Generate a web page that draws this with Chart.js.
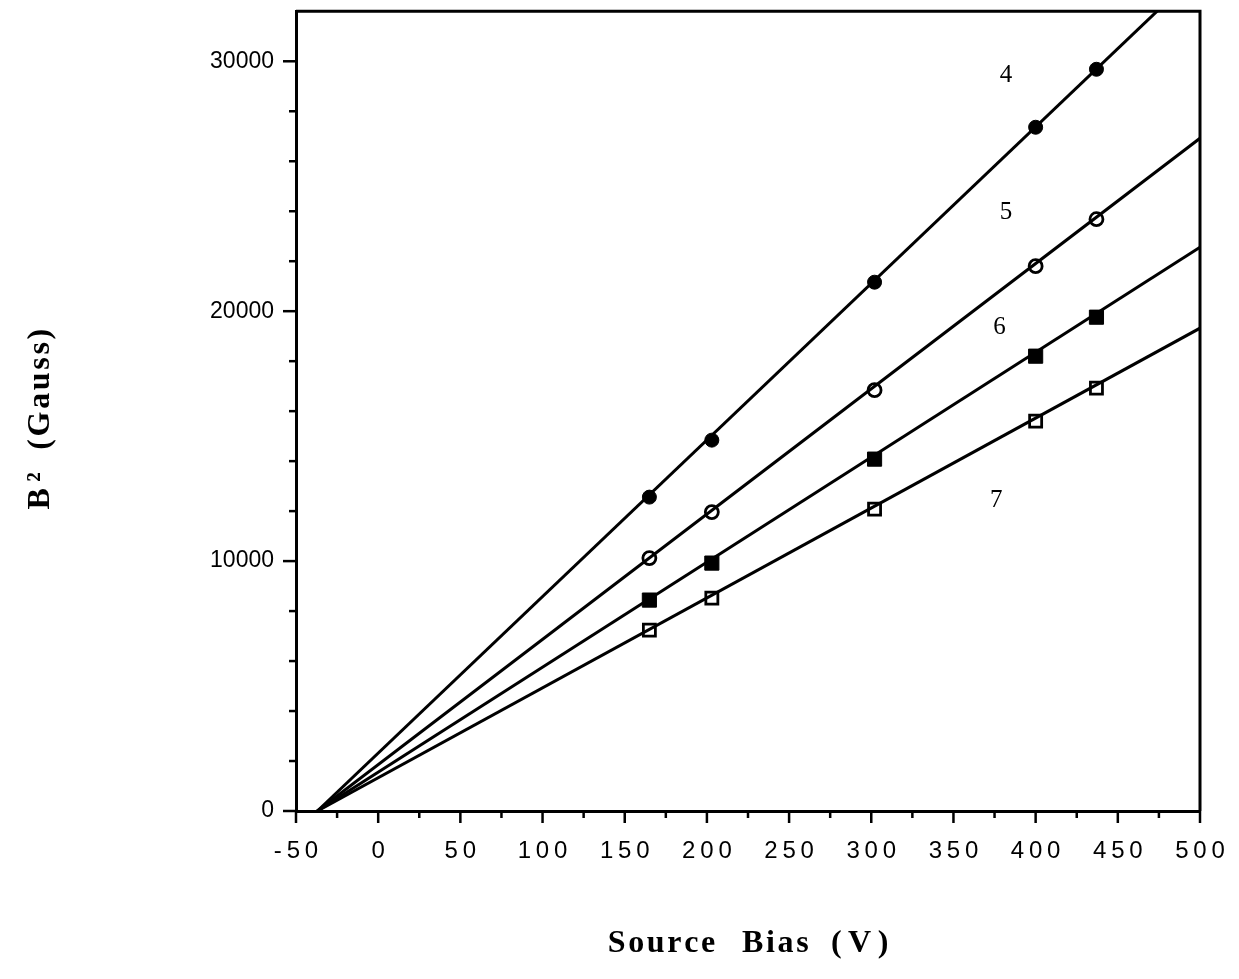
<!DOCTYPE html>
<html>
<head>
<meta charset="utf-8">
<script src="https://cdn.jsdelivr.net/npm/chart.js@4/dist/chart.umd.min.js"></script>
<style>
  body { margin: 0; background: #fff; }
  #wrap { width: 1239px; height: 979px; }
</style>
</head>
<body>
<div id="wrap"><canvas id="graphe" width="1239" height="979"></canvas></div>
<script>
// source bias of the measured points (V)
const bias = [165, 203, 302, 400, 437];

// measured B^2 for each curve
const curve4 = [12560, 14840, 21160, 27360, 29680];
const curve5 = [10120, 11960, 16840, 21800, 23680];
const curve6 = [8440, 9920, 14080, 18200, 19760];
const curve7 = [7240, 8520, 12080, 15600, 16920];

// straight fits, start and end (clipped by the plot box)
const fitX = [-37, 500];
const fit4 = [0, 33640];
const fit5 = [0, 26920];
const fit6 = [0, 22560];
const fit7 = [0, 19320];

// curve numbers written beside the lines
const tagText = ["4", "5", "6", "7"];
const tagX = [382, 382, 378, 376];
const tagY = [29440, 23960, 19360, 12440];

function pts(xs, ys) {
  return xs.map((v, i) => ({ x: v, y: ys[i] }));
}

// spread letters a little, like the typewritten labels
function spaced(word, sep) {
  return word.split("").join(sep || "\u200A");
}

function fitLine(ys) {
  return {
    type: "line",
    data: pts(fitX, ys),
    borderColor: "#000",
    borderWidth: 3,
    pointRadius: 0,
    fill: false,
    order: 2,
  };
}

function marks(ys, style, filled, r) {
  return {
    type: "scatter",
    data: pts(bias, ys),
    pointStyle: style,
    pointRadius: r,
    pointBorderColor: "#000",
    pointBackgroundColor: filled ? "#000" : "rgba(0,0,0,0)",
    pointBorderWidth: filled ? 1 : 2.8,
    showLine: false,
    order: 1,
  };
}

// closing frame, tick marks and curve numbers
const frame = {
  id: "frame",
  afterDraw(chart) {
    const { ctx, chartArea: a, scales } = chart;
    const x = scales.x, y = scales.y;
    ctx.save();
    ctx.strokeStyle = "#000";
    ctx.lineWidth = 3;
    ctx.beginPath();
    ctx.moveTo(a.left, a.top);
    ctx.lineTo(a.right, a.top);
    ctx.lineTo(a.right, a.bottom);
    ctx.stroke();

    ctx.lineWidth = 2.5;
    x.ticks.forEach((t) => {
      const px = x.getPixelForValue(t.value);
      const len = t.value % 50 === 0 ? 12 : 7;
      ctx.beginPath();
      ctx.moveTo(px, a.bottom);
      ctx.lineTo(px, a.bottom + len);
      ctx.stroke();
    });
    y.ticks.forEach((t) => {
      if (t.value >= y.max) return;
      const py = y.getPixelForValue(t.value);
      const len = t.value % 10000 === 0 ? 13 : 7;
      ctx.beginPath();
      ctx.moveTo(a.left, py);
      ctx.lineTo(a.left - len, py);
      ctx.stroke();
    });

    ctx.fillStyle = "#000";
    ctx.font = '25px "Liberation Serif", "Times New Roman", serif';
    ctx.textAlign = "center";
    ctx.textBaseline = "middle";
    tagText.forEach((s, i) => {
      ctx.fillText(s, x.getPixelForValue(tagX[i]), y.getPixelForValue(tagY[i]));
    });
    ctx.restore();
  },
};

const ctx = document.getElementById("graphe").getContext("2d");

new Chart(ctx, {
  data: {
    datasets: [
      fitLine(fit4),
      fitLine(fit5),
      fitLine(fit6),
      fitLine(fit7),
      marks(curve4, "circle", true, 7),
      marks(curve5, "circle", false, 6.5),
      marks(curve6, "rect", true, 10),
      marks(curve7, "rect", false, 8.5),
    ],
  },
  options: {
    responsive: false,
    animation: false,
    layout: { padding: { top: 10, right: 39, left: 0, bottom: 0 } },
    plugins: {
      legend: { display: false },
      tooltip: { enabled: false },
    },
    scales: {
      x: {
        type: "linear",
        min: -50,
        max: 500,
        grid: { display: false },
        border: { display: true, color: "#000", width: 3 },
        afterFit(scale) {
          scale.height = 168;
          scale.paddingLeft = 0;
          scale.paddingRight = 0;
        },
        ticks: {
          stepSize: 25,
          autoSkip: false,
          maxRotation: 0,
          padding: 18,
          color: "#000",
          font: { family: '"Liberation Sans", Arial, sans-serif', size: 24 },
          callback: (v) => (v % 50 === 0 ? spaced(String(v), "\u2009") : ""),
        },
        title: {
          display: true,
          text: spaced("Source") + "\u2002 \u200A" + spaced("Bias") + "\u2002\u2009" + spaced("(V)", "\u2009"),
          color: "#000",
          font: { family: '"Liberation Serif", "Times New Roman", serif', size: 32, weight: "bold" },
          padding: { top: 0, bottom: 16 },
        },
      },
      y: {
        type: "linear",
        min: 0,
        max: 32000,
        grid: { display: false },
        border: { display: true, color: "#000", width: 3 },
        afterFit(scale) {
          scale.width = 296;
          scale.paddingTop = 0;
          scale.paddingBottom = 0;
        },
        ticks: {
          stepSize: 2000,
          autoSkip: false,
          padding: 14,
          color: "#000",
          font: { family: '"Liberation Sans", Arial, sans-serif', size: 23 },
          callback: (v) => (v % 10000 === 0 ? String(v) : ""),
        },
        title: {
          display: true,
          text: "B\u2009\u00b2\u2002\u2009" + spaced("(Gauss)") + "\u2002",
          color: "#000",
          font: { family: '"Liberation Serif", "Times New Roman", serif', size: 32, weight: "bold" },
          padding: { top: 22, bottom: 0 },
        },
      },
    },
  },
  plugins: [frame],
});
</script>
</body>
</html>
